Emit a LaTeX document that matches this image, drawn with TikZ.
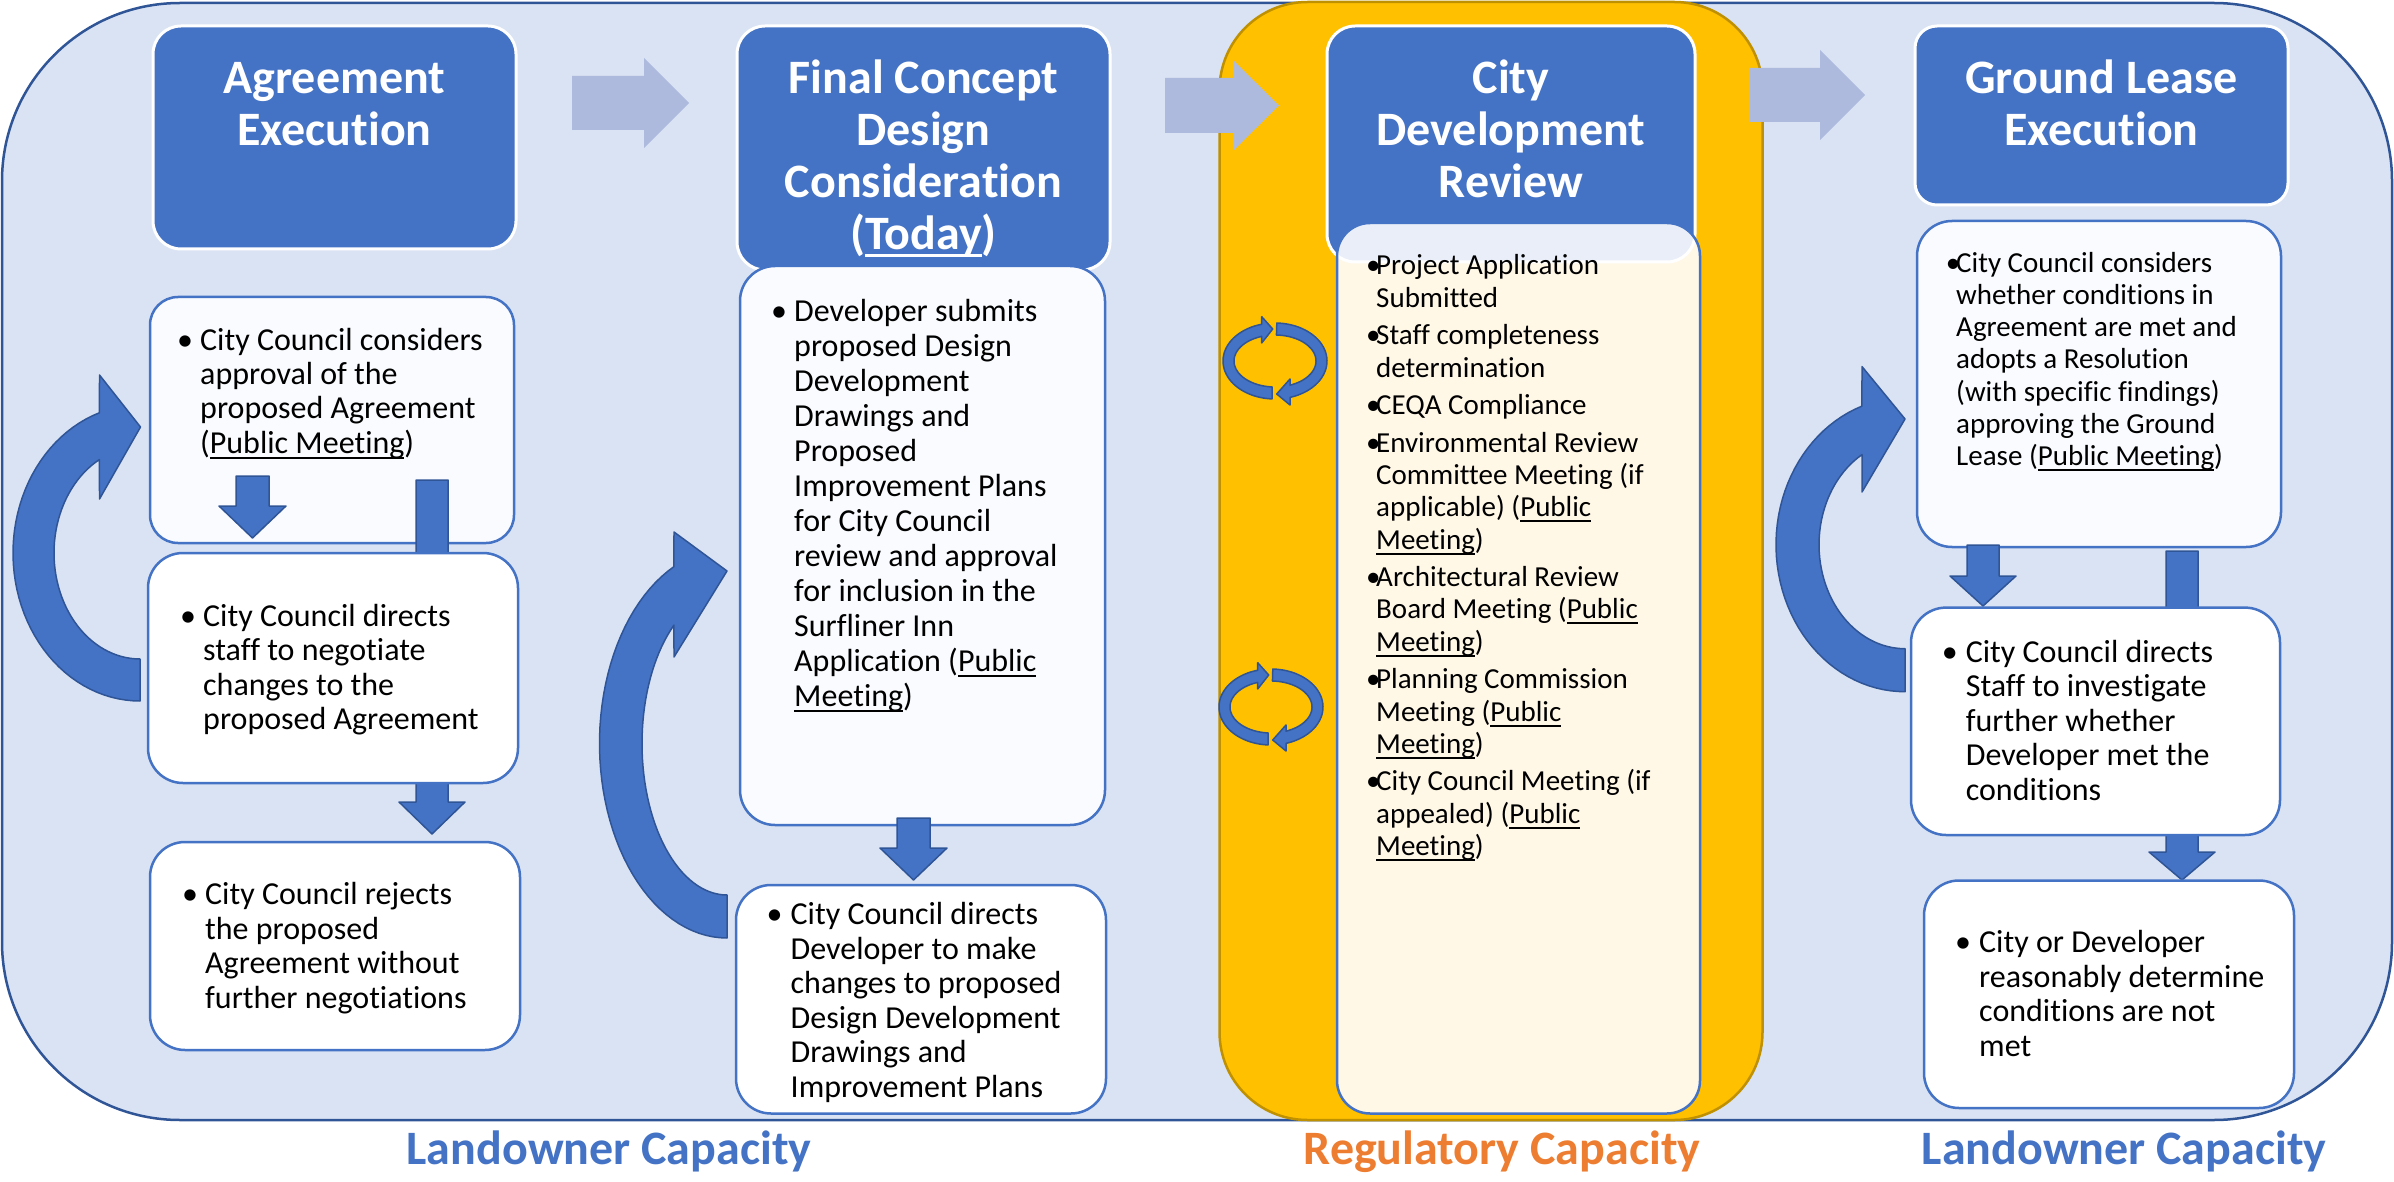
\documentclass[tikz,border=0pt]{standalone}
\usepackage{fontspec}
\setmainfont{Carlito}[Ligatures=NoCommon]
\definecolor{tblue}{RGB}{68,114,196}
\definecolor{darkblue}{RGB}{47,85,151}
\definecolor{outerfill}{RGB}{218,227,243}
\definecolor{yfill}{RGB}{255,192,0}
\definecolor{ydraw}{RGB}{191,144,0}
\definecolor{cream}{RGB}{255,248,231}
\definecolor{lav}{RGB}{233,238,248}
\definecolor{lightarr}{RGB}{173,185,221}
\definecolor{wtint}{RGB}{249,251,254}
\definecolor{regorange}{RGB}{237,125,49}
\newcommand\myul[1]{\setbox0=\hbox{#1}\rlap{\rule[-5.5pt]{\wd0}{2pt}}\box0}
\newcommand\myulT[1]{\setbox0=\hbox{#1}\rlap{\rule[-8pt]{\wd0}{3pt}}\box0}
\newcommand\tbox[1]{\begin{minipage}[t]{360pt}\centering\fontsize{48}{52}\selectfont\bfseries #1\end{minipage}}
\newcommand\bodytxt[5]{\begin{minipage}[t]{#5pt}\fontsize{#1}{#2}\selectfont\hangindent=#3pt\hangafter=1\makebox[#3pt][l]{\hspace{-4pt}•}#4\end{minipage}}
\newcommand\bodytxtB[5]{\begin{minipage}[t]{#5pt}\fontsize{#1}{#2}\selectfont\hangindent=#3pt\hangafter=1\makebox[#3pt][l]{•}#4\end{minipage}}
\newcommand\citm{\par\hangindent=10pt\hangafter=1\makebox[10pt][l]{•}}
\newcommand\rblk[6]{\fill[larrow] (#1,{#4-#5}) -- (#2,{#4-#5}) -- (#2,{#4-#6}) -- (#3,#4) -- (#2,{#4+#6}) -- (#2,{#4+#5}) -- (#1,{#4+#5}) -- cycle;}
\newcommand\dblk[6]{\filldraw[darr] ({#1-#5},#2) -- ({#1+#5},#2) -- ({#1+#5},#3) -- ({#1+#6},#3) -- (#1,#4) -- ({#1-#6},#3) -- ({#1-#5},#3) -- cycle;}
\tikzset{
  box/.style={anchor=north west, inner sep=0pt, outer sep=0pt},
  outerbox/.style={box, fill=outerfill, draw=darkblue, line width=2.5pt, rounded corners=178pt},
  ybox/.style={box, fill=yfill, draw=ydraw, line width=2.5pt, rounded corners=88pt},
  titlebox/.style={box, fill=tblue, draw=white, line width=3pt, rounded corners=28pt},
  wbox/.style={box, fill=white, draw=tblue, line width=2.5pt, rounded corners=35pt},
  ttext/.style={anchor=base, inner sep=0pt, text=white},
  btext/.style={anchor=base west, inner sep=0pt},
  larrow/.style={fill=lightarr},
  darr/.style={fill=tblue, draw=darkblue, line width=1.5pt, line join=round},
  caplabel/.style={anchor=base, inner sep=0pt, font=\bfseries\fontsize{48}{52}\selectfont}
}
\begin{document}
\begin{tikzpicture}[x=1pt,y=-1pt]
\useasboundingbox (0,0) rectangle (2394,1182);
% backgrounds
\node[outerbox, minimum width=2390pt, minimum height=1117pt] (outer) at (2,3) {};
\node[ybox, minimum width=543pt, minimum height=1118pt] (reg) at (1219.5,2) {};
% light arrows between stages
\rblk{572}{644}{689}{103}{27}{45}
\rblk{1165}{1234}{1279}{105.5}{27.5}{44.5}
\rblk{1750}{1820}{1865}{95}{27}{45}
% title boxes
\node[titlebox, minimum width=363pt, minimum height=223pt] (TA) at (153,26) {};
\node[titlebox, minimum width=373pt, minimum height=244pt] (TB) at (737,26) {};
\node[titlebox, minimum width=368pt, minimum height=236pt] (TC) at (1327,26) {};
\node[titlebox, rounded corners=22pt, minimum width=373pt, minimum height=179pt] (TD) at (1915,26) {};
\node[ttext] (TAt) at (334.5,93.5) {\tbox{Agreement\\Execution}};
\node[ttext] (TBt) at (923.5,93.5) {\tbox{Final Concept\\Design\\Consideration\\(\myulT{Today})}};
\node[ttext] (TCt) at (1511,93.5) {\tbox{City\\Development\\Review}};
\node[ttext] (TDt) at (2101.5,93.5) {\tbox{Ground Lease\\Execution}};
% column A
\node[wbox, fill=wtint, rounded corners=28pt, minimum width=364pt, minimum height=246pt] (A1) at (150,297) {};
\dblk{252.5}{476}{506}{538}{16.5}{33.5}
\dblk{432}{480}{802}{834}{16}{33}
\node[wbox, minimum width=370pt, minimum height=230pt] (A2) at (148,553) {};
\node[wbox, minimum width=370pt, minimum height=208pt] (A3) at (150,842) {};
\node[btext] (A1t) at (181,350) {\bodytxt{32}{34.5}{19}{City Council considers\\approval of the\\proposed Agreement\\(\myul{Public Meeting})}{325}};
\node[btext] (A2t) at (184,626) {\bodytxt{32}{34.5}{19}{City Council directs\\staff to negotiate\\changes to the\\proposed Agreement}{325}};
\node[btext] (A3t) at (186,904.5) {\bodytxt{32}{34.5}{19}{City Council rejects\\the proposed\\Agreement without\\further negotiations}{325}};
\filldraw[darr] plot[domain=90:241.9,samples=50] ({140+86*cos(\x)},{553+106*sin(\x)}) -- (99.5,499) -- (140.5,427) -- (99.5,375) -- plot[domain=251.4:90,samples=50] ({140+127*cos(\x)},{553+148*sin(\x)}) -- cycle;
% column B
\node[wbox, fill=wtint, minimum width=365pt, minimum height=559pt] (B1) at (740,266) {};
\dblk{913.5}{818}{848}{880}{16.5}{33.5}
\node[wbox, minimum width=370pt, minimum height=228.5pt] (B2) at (736,885) {};
\node[btext] (B1t) at (775,321.5) {\bodytxt{32}{35}{19}{Developer submits\\proposed Design\\Development\\Drawings and\\Proposed\\Improvement Plans\\for City Council\\review and approval\\for inclusion in the\\Surfliner Inn\\Application (\myul{Public}\\\myul{Meeting})}{322}};
\node[btext] (B2t) at (770.5,924.5) {\bodytxt{32}{34.5}{20}{City Council directs\\Developer to make\\changes to proposed\\Design Development\\Drawings and\\Improvement Plans}{328}};
\filldraw[darr] plot[domain=90:231.4,samples=50] ({727+85*cos(\x)},{743.5+151.5*sin(\x)}) -- (674,657) -- (727,571) -- (674,532) -- plot[domain=245.4:90,samples=50] ({727+127.5*cos(\x)},{743.5+194.5*sin(\x)}) -- cycle;
% column C
\node[box, fill=cream, rounded corners=33pt, minimum width=363pt, minimum height=890.5pt] (C1) at (1337,223) {};
\begin{scope}
  \clip[rounded corners=33pt] (1337,223) rectangle (1700,1113.5);
  \draw[fill=lav, draw=white, line width=3pt, rounded corners=28pt] (1327,26) rectangle (1695,262);
\end{scope}
\draw[draw=tblue, line width=2.5pt, rounded corners=33pt] (C1.north west) rectangle (C1.south east);
\node[btext] (C1t) at (1366,275) {\begin{minipage}[t]{326pt}\fontsize{29}{32.2}\selectfont\parskip=5.5pt
\citm Project Application\\Submitted
\citm Staff completeness\\determination
\citm CEQA Compliance
\citm Environmental Review\\Committee Meeting (if\\applicable) (\myul{Public}\\\myul{Meeting})
\citm Architectural Review\\Board Meeting (\myul{Public}\\\myul{Meeting})
\citm Planning Commission\\Meeting (\myul{Public}\\\myul{Meeting})
\citm City Council Meeting (if\\appealed) (\myul{Public}\\\myul{Meeting})
\end{minipage}};
\foreach \cx/\cy in {1275/361,1271/707}{
  \begin{scope}[shift={(\cx,\cy)}]
    \filldraw[darr] plot[domain=94:251.1,samples=40] ({41*cos(\x)},{26*sin(\x)}) -- (-13.3,-18) -- (-2.3,-32) -- (-13.3,-44.3) -- plot[domain=255.2:93.3,samples=40] ({52*cos(\x)},{38*sin(\x)}) -- cycle;
    \filldraw[darr] plot[domain=272:433.2,samples=40] ({52*cos(\x)},{38*sin(\x)}) -- (15,44) -- (1.7,33) -- (15,18) -- plot[domain=428.5:272,samples=40] ({41*cos(\x)},{26*sin(\x)}) -- cycle;
  \end{scope}
}
% column D
\node[wbox, fill=wtint, minimum width=364pt, minimum height=326pt] (D1) at (1917,221) {};
\dblk{1983}{545}{576}{606}{16}{33}
\dblk{2182}{551}{852}{880}{16}{33}
\node[wbox, minimum width=369pt, minimum height=227.4pt] (D2) at (1911,607.6) {};
\node[wbox, minimum width=370pt, minimum height=227.5pt] (D3) at (1924,880.5) {};
\node[btext] (D1t) at (1945.6,272.7) {\bodytxtB{29}{32.1}{10.4}{City Council considers\\whether conditions in\\Agreement are met and\\adopts a Resolution\\(with specific findings)\\approving the Ground\\Lease (\myul{Public Meeting})}{326}};
\node[btext] (D2t) at (1945.6,662) {\bodytxt{32}{34.5}{20}{City Council directs\\Staff to investigate\\further whether\\Developer met the\\conditions}{326}};
\node[btext] (D3t) at (1959,952.5) {\bodytxt{32}{34.5}{20}{City or Developer\\reasonably determine\\conditions are not\\met}{326}};
\filldraw[darr] plot[domain=90:240,samples=50] ({1905+86*cos(\x)},{544.7+104*sin(\x)}) -- (1862,492) -- (1905,419) -- (1862,366.6) -- plot[domain=250.5:90,samples=50] ({1905+129*cos(\x)},{544.7+147*sin(\x)}) -- cycle;
% capacity labels
\node[caplabel, text=tblue] (capL) at (609,1164.7) {Landowner Capacity};
\node[caplabel, text=regorange] (capR) at (1502,1164.7) {Regulatory Capacity};
\node[caplabel, text=tblue] (capD) at (2124,1164.7) {Landowner Capacity};
\end{tikzpicture}
\end{document}
